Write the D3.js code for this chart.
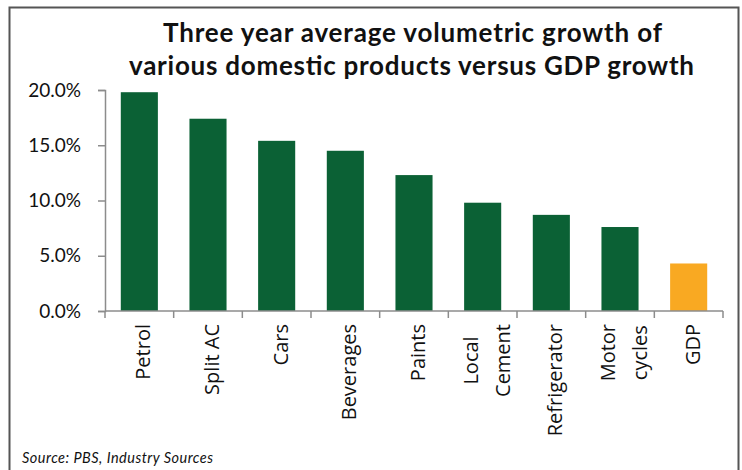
<!DOCTYPE html>
<html>
<head>
<meta charset="utf-8">
<script src="https://cdn.jsdelivr.net/npm/d3@7"></script>
<style>
  body { margin: 0; background: #fff; }
  text { font-family: Lato, "Open Sans", sans-serif; }
</style>
</head>
<body>
<script>
        // chart values
        var categories = ["Petrol", "Split AC", "Cars", "Beverages", "Paints", "Local\nCement", "Refrigerator", "Motor\ncycles", "GDP"];
        var growth = [19.8, 17.4, 15.4, 14.5, 12.3, 9.8, 8.7, 7.6, 4.3];
        var yTicks = [0, 5, 10, 15, 20];
        var titleLines = ["Three year average volumetric growth of", "various domestic products versus GDP growth"];
        var titleWidths = [499, 565];

        var width = 742, height = 470;
        var margin = {top: 90, right: 19, bottom: 159, left: 105};

        var svg = d3.select("body").append("svg")
            .attr("width", width)
            .attr("height", height);

        // frame round the chart
        svg.append("path")
            .attr("d", "M9.5,470 V7.5 H738.5 V470")
            .attr("fill", "none")
            .attr("stroke", "#555")
            .attr("stroke-width", 2);

        var x = d3.scaleBand()
            .domain(categories)
            .range([margin.left, width - margin.right])
            .paddingInner(0.46)
            .paddingOuter(0.23);

        var y = d3.scaleLinear()
            .domain([0, 20])
            .range([height - margin.bottom, margin.top]);

        svg.selectAll("rect.bar")
            .data(growth)
            .enter()
                .append("rect")
                .attr("class", "bar")
                .attr("x", function(d, i) { return x(categories[i]); })
                .attr("width", x.bandwidth())
                .attr("y", function(d) { return y(d); })
                .attr("height", function(d) { return y(0) - y(d); })
                .attr("fill", function(d, i) { return categories[i] == "GDP" ? "#f9a922" : "#0b6135"; });

        // y axis
        var yAxis = svg.append("g")
            .attr("transform", "translate(" + margin.left + ",0)")
            .call(d3.axisLeft(y).tickValues(yTicks).tickSize(7).tickPadding(17)
                .tickFormat(function(d) { return d3.format(".1f")(d) + "%"; }));
        yAxis.selectAll("line, path").attr("stroke", "#8c8c8c").attr("stroke-width", 1.5);
        yAxis.selectAll("text")
            .attr("font-size", 19)
            .attr("fill", "#111");

        // x axis, ticks sit between categories
        var xAxis = svg.append("g")
            .attr("transform", "translate(0," + y(0) + ")");
        xAxis.append("line")
            .attr("x1", margin.left).attr("x2", width - margin.right)
            .attr("stroke", "#8c8c8c").attr("stroke-width", 1.5);
        var step = x.step();
        xAxis.selectAll("line.tick")
            .data(d3.range(categories.length + 1))
            .enter()
                .append("line")
                .attr("class", "tick")
                .attr("x1", function(i) { return margin.left + i * step; })
                .attr("x2", function(i) { return margin.left + i * step; })
                .attr("y1", 0).attr("y2", 7)
                .attr("stroke", "#8c8c8c").attr("stroke-width", 1.5);

        var labels = xAxis.selectAll("g.cat")
            .data(categories)
            .enter()
                .append("g")
                .attr("class", "cat")
                .attr("transform", function(d) {
                    var cx = x(d) + x.bandwidth() / 2;
                    return "translate(" + cx + ",13) rotate(-90)";
                });
        labels.each(function(d) {
            var parts = d.split("\n");
            var g = d3.select(this);
            var texts = parts.map(function(p, j) {
                return g.append("text")
                    .style("font-family", "'Open Sans', sans-serif")
                    .attr("font-size", 20)
                    .attr("fill", "#111")
                    .attr("y", parts.length == 1 ? 11 : (j == 0 ? -5 : 27))
                    .text(p);
            });
            if (parts.length == 1) {
                texts[0].attr("text-anchor", "end");
            } else {
                // lines are centred on each other, longest one starts at the axis
                var maxLen = d3.max(texts, function(t) { return t.node().getComputedTextLength(); });
                texts.forEach(function(t) {
                    t.attr("text-anchor", "middle").attr("x", -maxLen / 2);
                });
            }
        });

        // title
        svg.selectAll("text.title")
            .data(titleLines)
            .enter()
                .append("text")
                .attr("class", "title")
                .attr("x", function(d, i) { return (i == 0 ? 163 : 129); })
                .attr("y", function(d, i) { return 42 + i * 33; })
                .attr("font-size", 26)
                .attr("font-weight", "bold")
                .attr("fill", "#111")
                .attr("textLength", function(d, i) { return titleWidths[i]; })
                .attr("lengthAdjust", "spacing")
                .text(function(d) { return d; });

        svg.append("text")
            .attr("x", 22)
            .attr("y", 463)
            .attr("font-size", 14.5)
            .attr("font-style", "italic")
            .attr("fill", "#111")
            .attr("textLength", 191)
            .attr("lengthAdjust", "spacing")
            .text("Source: PBS, Industry Sources");
</script>
</body>
</html>
